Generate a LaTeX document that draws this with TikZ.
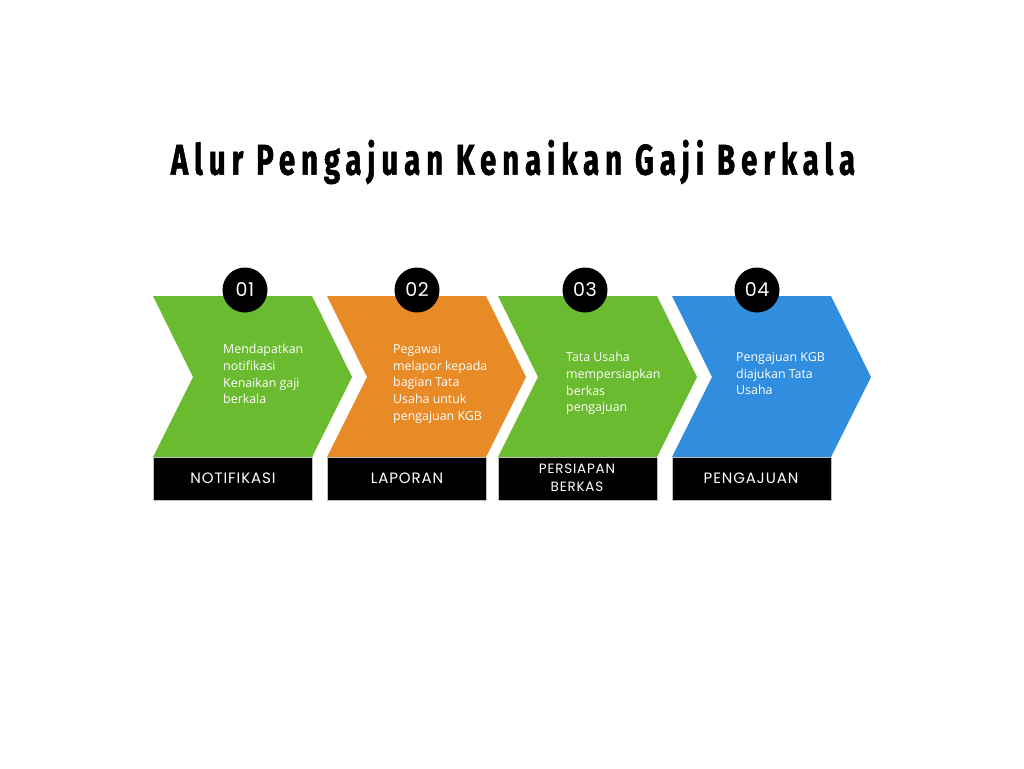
\documentclass[tikz,border=0pt]{standalone}
\usepackage{fontspec}
\setmainfont{Open Sans}
\newfontfamily\titlefont[FakeStretch=0.68,LetterSpace=14,FakeBold=1.2]{Fira Sans Bold}
\newfontfamily\labelfont[LetterSpace=6]{Poppins}
\newfontfamily\numfont[LetterSpace=3]{Poppins}
\definecolor{cgreen}{HTML}{6ABB30}
\definecolor{corange}{HTML}{E88A25}
\definecolor{cblue}{HTML}{318DDE}
\tikzset{
  desc/.style={anchor=north west,align=left,text=white,font=\fontsize{12.4}{16.7}\selectfont,inner sep=0pt},
  lbl/.style={text=white,font=\labelfont\fontsize{15}{18}\selectfont,align=center,inner sep=0pt},
  numc/.style={circle,fill=black,minimum size=45pt,inner sep=0pt,text=white,font=\numfont\fontsize{19}{19}\selectfont},
  labbox/.style={fill=black,draw=black!25,line width=0.6pt}
}
\begin{document}
\begin{tikzpicture}[x=1pt,y=-1pt]
\useasboundingbox[fill=white] (0,0) rectangle (1024,768);
\node (title) at (513,162) {\titlefont\fontsize{43}{43}\selectfont Alur Pengajuan Kenaikan Gaji Berkala};
% chevrons
\foreach \x/\c [count=\i] in {153/cgreen,327/corange,498/cgreen,672/cblue}{
  \fill[\c] (\x,296) -- (\x+159,296) -- (\x+199,377) -- (\x+159,457) -- (\x,457) -- (\x+40,377) -- cycle;
  \draw[labbox] (\x,457) rectangle (\x+159,500);
}
\node[numc] (n1) at (245,290) {01};
\node[numc] (n2) at (417,290) {02};
\node[numc] (n3) at (585,290) {03};
\node[numc] (n4) at (757,290) {04};
\node[desc] (d1) at (223,344) {Mendapatkan\\notifikasi\\Kenaikan gaji\\berkala};
\node[desc] (d2) at (393,344) {Pegawai\\melapor kepada\\bagian Tata\\Usaha untuk\\pengajuan KGB};
\node[desc] (d3) at (566,352) {Tata Usaha\\mempersiapkan\\berkas\\pengajuan};
\node[desc] (d4) at (736,352) {Pengajuan KGB\\diajukan Tata\\Usaha};
\node[lbl] (l1) at (233,478) {NOTIFIKASI};
\node[lbl] (l2) at (407,478) {LAPORAN};
\node[lbl,font=\labelfont\fontsize{13.5}{18}\selectfont] (l3) at (577,478) {PERSIAPAN\\BERKAS};
\node[lbl] (l4) at (751,478) {PENGAJUAN};
\end{tikzpicture}
\end{document}
